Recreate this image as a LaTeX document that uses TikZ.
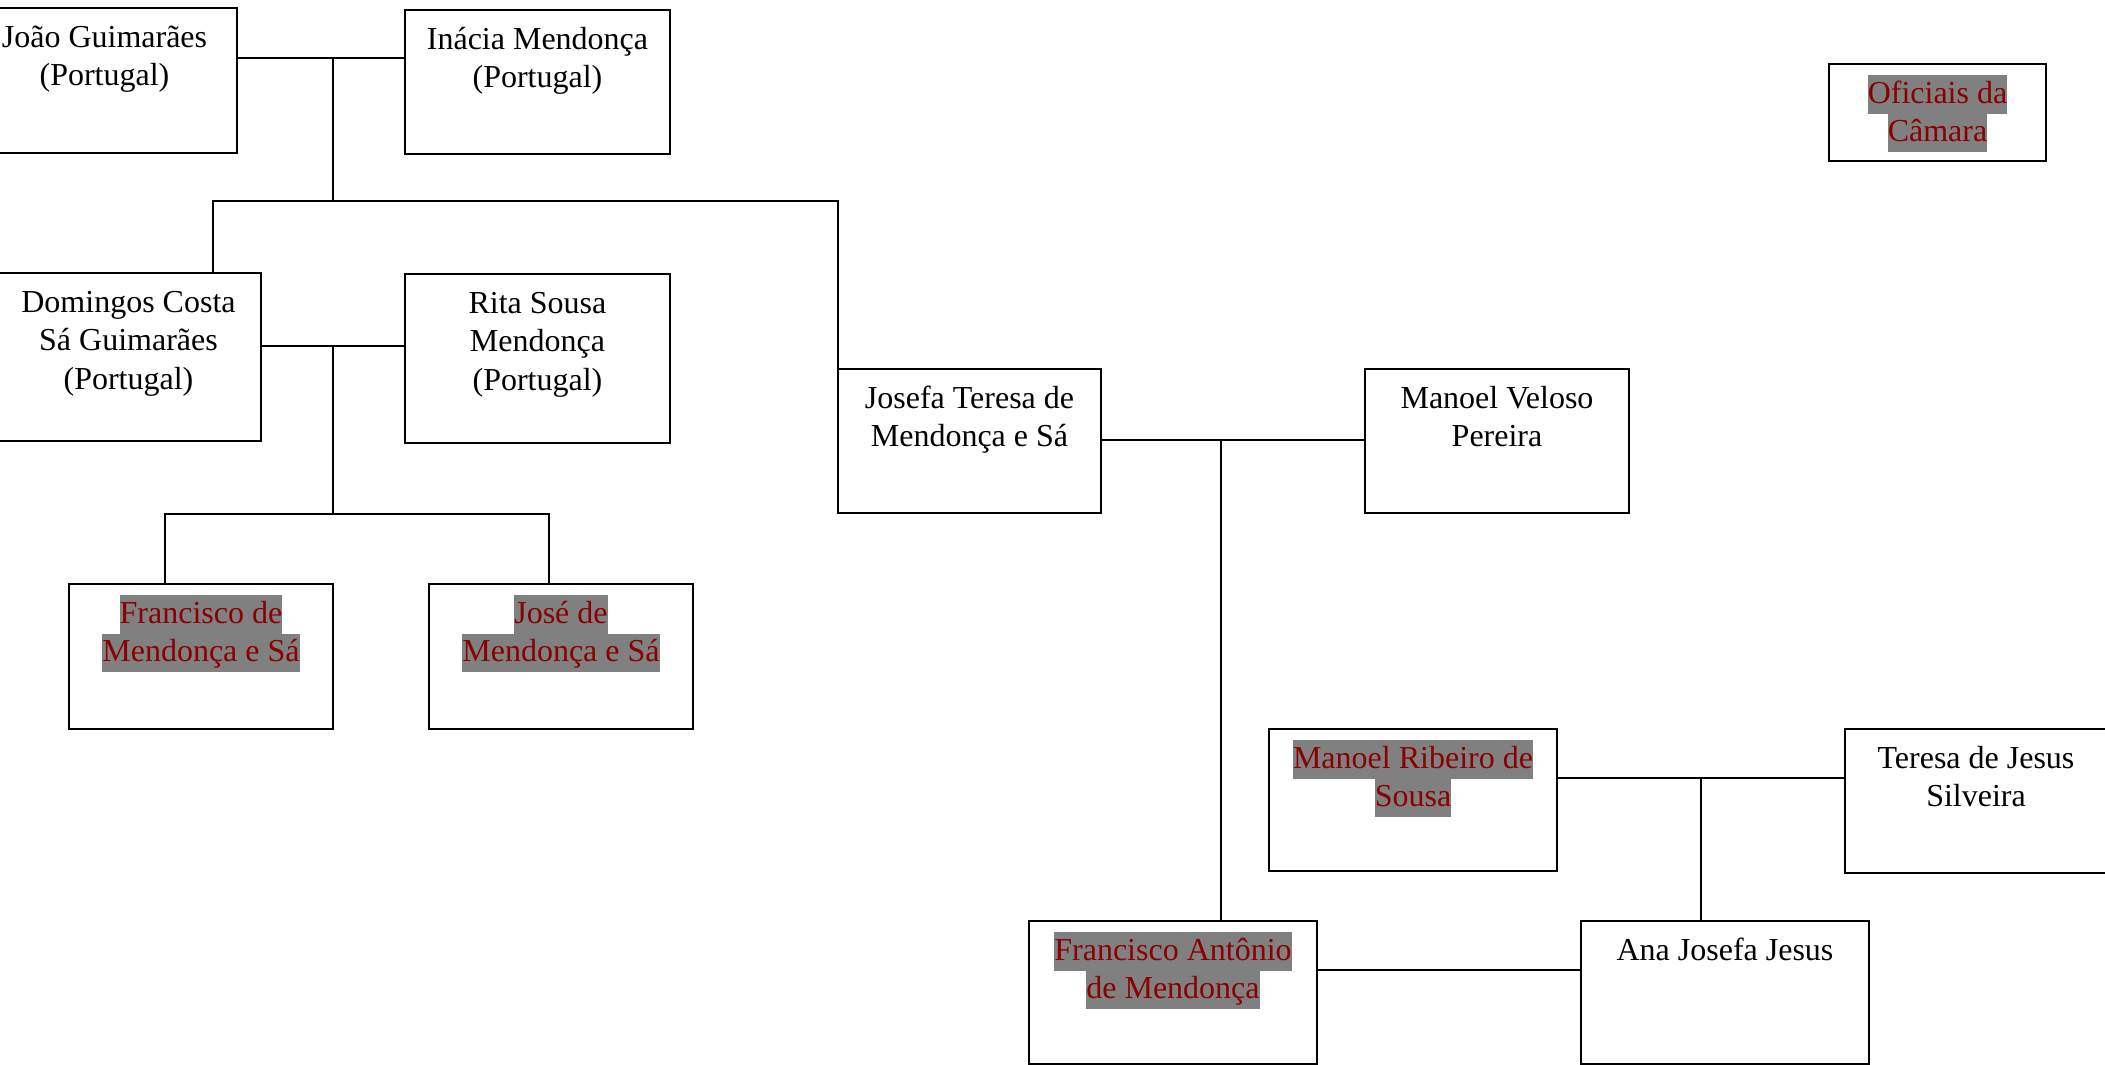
\documentclass[tikz,border=0pt]{standalone}
\usepackage{fontspec}
\setmainfont{Liberation Serif}
\definecolor{hlgray}{RGB}{128,128,128}
\definecolor{hlred}{RGB}{139,0,0}
\newcommand{\plainln}[1]{\rule[-5.25pt]{0pt}{19.25pt}#1}
\newcommand{\hiln}[1]{{\setlength{\fboxsep}{0pt}\colorbox{hlgray}{\rule[-5.25pt]{0pt}{19.25pt}\textcolor{hlred}{#1}}}}
\tikzset{
  fbox/.style 2 args={draw, line width=0.75pt, inner sep=0pt, outer sep=0pt, anchor=north west,
    minimum width=#1*0.5pt, minimum height=#2*0.5pt},
  txt/.style={anchor=north, inner sep=0pt, align=center, font=\fontsize{16pt}{19.25pt}\selectfont},
  conn/.style={line width=0.75pt}
}
\begin{document}
\begin{tikzpicture}[x=0.5pt,y=-0.5pt]
\clip (0,0) rectangle (2105,1065);
\fill[white] (0,0) rectangle (2105,1065);
% boxes
\node[fbox={265}{145}] (jg) at (-28,8) {};
\node[fbox={265}{144}] (im) at (405,10) {};
\node[fbox={265}{168}] (dc) at (-4,273) {};
\node[fbox={265}{169}] (rs) at (405,274) {};
\node[fbox={264}{145}] (fr) at (69,584) {};
\node[fbox={264}{145}] (jo) at (429,584) {};
\node[fbox={263}{144}] (jt) at (838,369) {};
\node[fbox={264}{144}] (mv) at (1365,369) {};
\node[fbox={288}{142}] (mr) at (1269,729) {};
\node[fbox={262}{144}] (tj) at (1845,729) {};
\node[fbox={288}{143}] (fa) at (1029,921) {};
\node[fbox={288}{143}] (aj) at (1581,921) {};
\node[fbox={217}{97}] (oc) at (1829,64) {};
% texts
\node[txt] (jgt) at ([yshift=-5.5pt]jg.north) {\plainln{João Guimarães}\\\plainln{(Portugal)}};
\node[txt] (imt) at ([yshift=-5.5pt]im.north) {\plainln{Inácia Mendonça}\\\plainln{(Portugal)}};
\node[txt] (dct) at ([yshift=-5.5pt]dc.north) {\plainln{Domingos Costa}\\\plainln{Sá Guimarães}\\\plainln{(Portugal)}};
\node[txt] (rst) at ([yshift=-5.5pt]rs.north) {\plainln{Rita Sousa}\\\plainln{Mendonça}\\\plainln{(Portugal)}};
\node[txt] (frt) at ([yshift=-5.5pt]fr.north) {\hiln{Francisco de}\\\hiln{Mendonça e Sá}};
\node[txt] (jot) at ([yshift=-5.5pt]jo.north) {\hiln{José de}\\\hiln{Mendonça e Sá}};
\node[txt] (jtt) at ([yshift=-5.5pt]jt.north) {\plainln{Josefa Teresa de}\\\plainln{Mendonça e Sá}};
\node[txt] (mvt) at ([yshift=-5.5pt]mv.north) {\plainln{Manoel Veloso}\\\plainln{Pereira}};
\node[txt] (mrt) at ([yshift=-5.5pt]mr.north) {\hiln{Manoel Ribeiro de}\\\hiln{Sousa}};
\node[txt] (tjt) at ([yshift=-5.5pt]tj.north) {\plainln{Teresa de Jesus}\\\plainln{Silveira}};
\node[txt] (fat) at ([yshift=-5.5pt]fa.north) {\hiln{Francisco Antônio}\\\hiln{de Mendonça}};
\node[txt] (ajt) at ([yshift=-5.5pt]aj.north) {\plainln{Ana Josefa Jesus}};
\node[txt] (oct) at ([yshift=-5.5pt]oc.north) {\hiln{Oficiais da}\\\hiln{Câmara}};
% junction points
\coordinate (m1) at (333,58);
\coordinate (k1) at (213,201);
\coordinate (c1) at (333,201);
\coordinate (m2) at (333,346);
\coordinate (k2) at (165,514);
\coordinate (c2) at (333,514);
\coordinate (k3) at (549,514);
\coordinate (m3) at (1221,440);
\coordinate (m4) at (1701,778);
\coordinate (m5) at (0,970);
% connectors
\draw[conn] (jg.east |- m1) -- (im.west |- m1);
\draw[conn] (m1) -- (c1);
\draw[conn] (dc.north -| k1) -- (k1) -- (k1 -| jt.west) -- (jt.north west);
\draw[conn] (dc.east |- m2) -- (rs.west |- m2);
\draw[conn] (m2) -- (c2);
\draw[conn] (fr.north -| k2) -- (k2) -- (k3) -- (jo.north -| k3);
\draw[conn] (jt.east |- m3) -- (mv.west |- m3);
\draw[conn] (m3) -- (fa.north -| m3);
\draw[conn] (mr.east |- m4) -- (tj.west |- m4);
\draw[conn] (m4) -- (aj.north -| m4);
\draw[conn] (fa.east |- m5) -- (aj.west |- m5);
\end{tikzpicture}
\end{document}
